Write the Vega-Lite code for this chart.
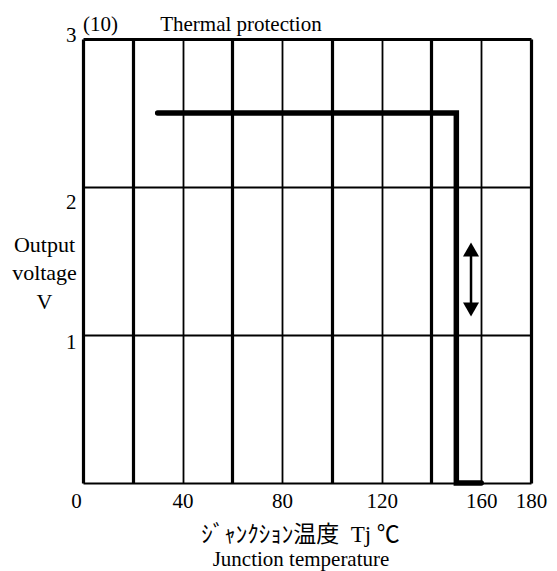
{
  "$schema": "https://vega.github.io/schema/vega-lite/v6.json",
  "width": 448,
  "height": 444,
  "autosize": {"type": "none"},
  "padding": {"left": 83, "top": 39, "right": 26, "bottom": 88},
  "background": "white",
  "config": {"view": {"stroke": null}, "font": "Liberation Serif"},
  "title": {
    "text": "Junction temperature",
    "orient": "bottom", "anchor": "middle", "frame": "group",
    "font": "Liberation Serif", "fontSize": 21, "fontWeight": "normal", "color": "black",
    "baseline": "alphabetic", "offset": 20, "dx": -6
  },
  "datasets": {
    "curve": [
      {"step": 1, "tj": 30, "v": 2.5},
      {"step": 2, "tj": 150, "v": 2.5},
      {"step": 3, "tj": 150, "v": 0},
      {"step": 4, "tj": 160, "v": 0}
    ],
    "arrow": [
      {"tj": 155.9, "v": 1.578, "end": "up"},
      {"tj": 155.9, "v": 1.172, "end": "down"}
    ],
    "notes": [
      {"tj": 0, "v": 3, "note": "(10)"},
      {"tj": 31, "v": 3, "note": "Thermal protection"}
    ]
  },
  "layer": [
    {
      "data": {"name": "curve"},
      "mark": {"type": "line", "color": "black", "strokeWidth": 5.5, "strokeCap": "round", "strokeJoin": "miter"},
      "encoding": {
        "x": {
          "field": "tj", "type": "quantitative",
          "scale": {"domain": [0, 180], "nice": false, "zero": false},
          "axis": {
            "values": [0, 20, 40, 60, 80, 100, 120, 140, 160, 180],
            "grid": true, "gridColor": "black", "gridOpacity": 1,
            "gridWidth": {"condition": {"test": "datum.value % 40 == 20 || datum.value == 0", "value": 3.2}, "value": 1.8},
            "domain": false, "ticks": false,
            "format": "d",
            "labelExpr": "datum.value % 40 == 0 || datum.value == 180 ? datum.label : ''",
            "labelFont": "Liberation Serif", "labelFontSize": 21, "labelColor": "black",
            "labelPadding": 7, "labelFlush": false, "labelOverlap": false, "labelBound": false,
            "labelOffset": {"condition": {"test": "datum.value == 0", "value": -7}, "value": 0},
            "title": "ｼﾞｬﾝｸｼｮﾝ温度\u2002Tj ℃",
            "titleFont": "Liberation Serif, Noto Sans CJK JP",
            "titleFontSize": 23, "titleFontWeight": "normal", "titleColor": "black",
            "titleBaseline": "alphabetic", "titleAlign": "center",
            "titleX": 217, "titleY": 58
          }
        },
        "y": {
          "field": "v", "type": "quantitative",
          "scale": {"domain": [0, 3], "nice": false, "zero": false},
          "axis": {
            "values": [0, 1, 2, 3],
            "grid": true, "gridColor": "black", "gridOpacity": 1,
            "gridWidth": {"condition": {"test": "datum.value == 3", "value": 3.2}, "value": 2.2},
            "domain": false, "ticks": false,
            "format": "d",
            "labelExpr": "datum.value == 0 ? '' : datum.label",
            "labelFont": "Liberation Serif", "labelFontSize": 21, "labelColor": "black",
            "labelPadding": 7, "labelBaseline": "alphabetic", "labelFlush": false, "labelOverlap": false, "labelBound": false,
            "labelOffset": {"condition": [
              {"test": "datum.value == 3", "value": 2},
              {"test": "datum.value == 2", "value": 21}
            ], "value": 13},
            "title": ["Output", "voltage", "V"],
            "titleFont": "Liberation Serif", "titleFontSize": 22, "titleFontWeight": "normal", "titleColor": "black",
            "titleAngle": 0, "titleAlign": "center", "titleBaseline": "alphabetic",
            "titleX": -39, "titleY": 212, "titleLineHeight": 28.5
          }
        },
        "order": {"field": "step", "type": "quantitative"}
      }
    },
    {
      "data": {"name": "arrow"},
      "mark": {"type": "line", "color": "black", "strokeWidth": 2.5},
      "encoding": {
        "x": {"field": "tj", "type": "quantitative"},
        "y": {"field": "v", "type": "quantitative"}
      }
    },
    {
      "data": {"name": "arrow"},
      "mark": {"type": "point", "filled": true, "color": "black", "size": 256, "opacity": 1},
      "encoding": {
        "x": {"field": "tj", "type": "quantitative"},
        "y": {"field": "v", "type": "quantitative"},
        "shape": {"field": "end", "type": "nominal", "scale": {"domain": ["up", "down"], "range": ["triangle-up", "triangle-down"]}, "legend": null}
      }
    },
    {
      "data": {"name": "notes"},
      "mark": {"type": "text", "align": "left", "baseline": "alphabetic", "font": "Liberation Serif", "fontSize": 21, "color": "black", "dy": -8},
      "encoding": {
        "x": {"field": "tj", "type": "quantitative"},
        "y": {"field": "v", "type": "quantitative"},
        "text": {"field": "note"}
      }
    }
  ]
}
